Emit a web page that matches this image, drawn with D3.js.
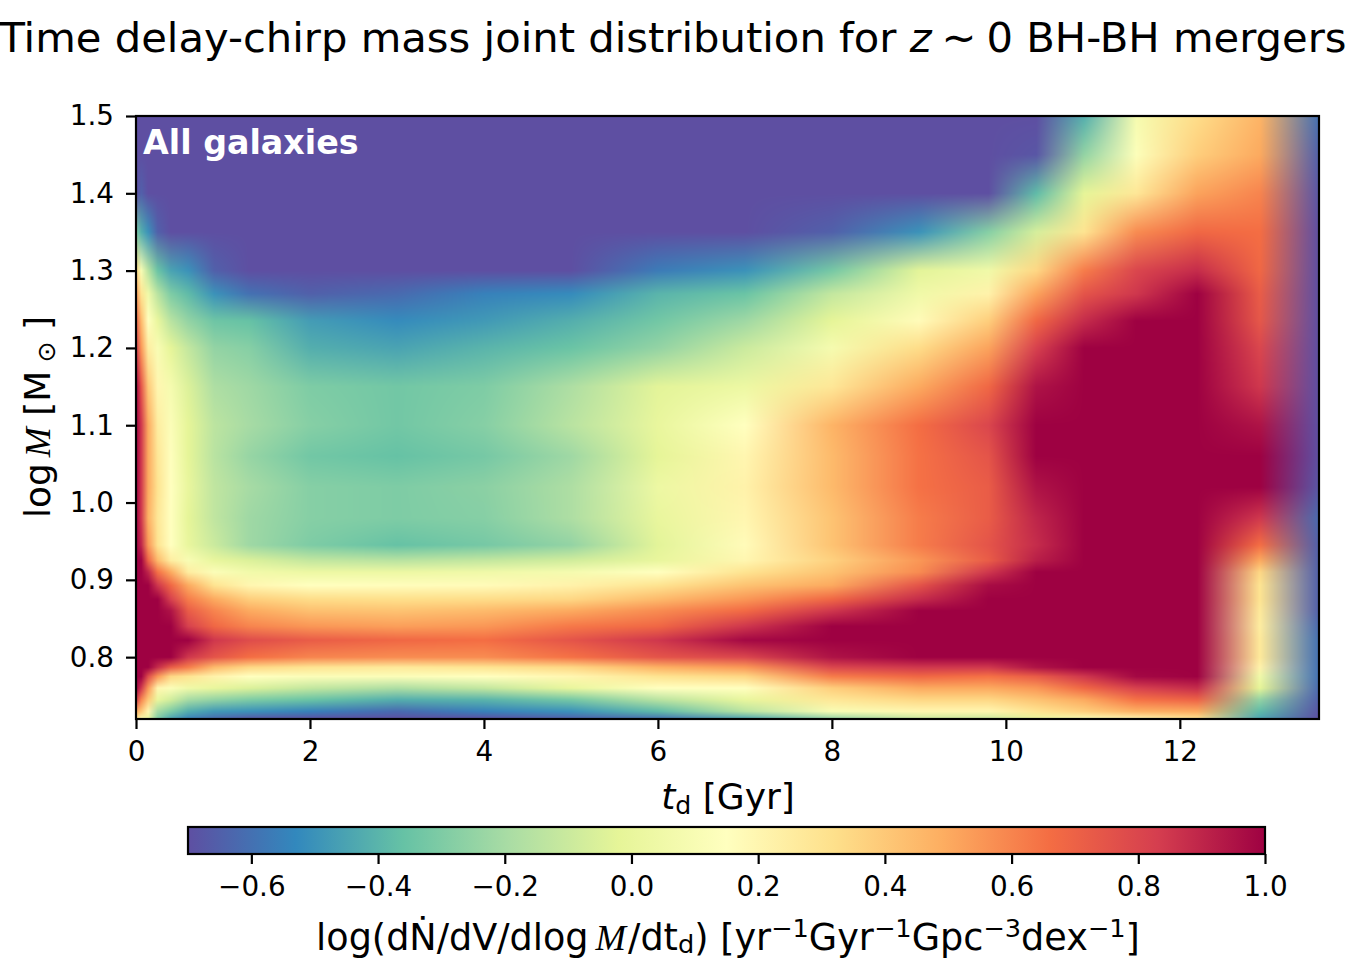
<!DOCTYPE html>
<html>
<head>
<meta charset="utf-8">
<title>Time delay-chirp mass joint distribution</title>
<script src="https://cdn.jsdelivr.net/npm/d3@7"></script>
<style>
  html, body { margin: 0; background: #fff; }
  svg { display: block; font-family: "DejaVu Sans", sans-serif; }
  .domain { display: none; }
  .tick line { stroke: #000; stroke-width: 2.2; }
  .tick text { font-size: 27.8px; fill: #000; font-family: "DejaVu Sans", sans-serif; }
</style>
</head>
<body>
<script>
// delay time nodes [Gyr]
const delayTimes = [0, .06, .14, .25, .4, .6, .9, 1.3, 2, 3, 4, 5, 6, 7, 8, 9, 9.8, 10.35, 10.9, 11.5, 12.2, 12.92, 13.6]
// log chirp mass nodes, top row first
const logMasses = [1.5, 1.45, 1.4, 1.35, 1.3, 1.27, 1.235, 1.2, 1.15, 1.1, 1.06, 1.02, .98, .945, .925, .91, .893, .875, .86, .84, .822, .8, .787, .775, .76, .745, .73, .72]
// log rate, one row per mass node
const logRates = [
  [-.8,-.8,-.8,-.8,-.8,-.8,-.8,-.8,-.8,-.8,-.8,-.8,-.8,-.8,-.8,-.8,-.8,-.72,-.42,.08,.33,.47,-.6],
  [-.75,-.8,-.8,-.8,-.8,-.8,-.8,-.8,-.8,-.8,-.8,-.8,-.8,-.8,-.8,-.8,-.75,-.68,-.25,.13,.38,.5,-.65],
  [-.7,-.65,-.72,-.78,-.8,-.8,-.8,-.8,-.8,-.8,-.8,-.8,-.8,-.8,-.8,-.8,-.72,-.38,-.02,.28,.52,.6,-.68],
  [-.3,-.42,-.5,-.65,-.72,-.75,-.8,-.8,-.8,-.8,-.8,-.8,-.78,-.75,-.65,-.5,-.28,-.07,.3,.58,.68,.66,-.7],
  [.35,.1,-.15,-.35,-.45,-.5,-.65,-.72,-.75,-.75,-.75,-.72,-.57,-.5,-.32,-.03,.05,.35,.62,.8,.88,.68,-.7],
  [.55,.3,.05,-.15,-.3,-.38,-.5,-.6,-.65,-.62,-.55,-.52,-.4,-.35,-.12,.05,.22,.52,.75,.85,1,.72,-.7],
  [.72,.45,.15,0,-.15,-.25,-.34,-.36,-.47,-.52,-.48,-.42,-.33,-.22,-.02,.17,.38,.68,.88,1.05,1.05,.74,-.7],
  [.85,.55,.25,.1,-.02,-.12,-.25,-.28,-.42,-.45,-.4,-.35,-.25,-.1,.08,.33,.52,.82,1,1.1,1.1,.8,-.7],
  [1.05,.75,.4,.2,.08,-.05,-.18,-.22,-.3,-.33,-.3,-.18,-.03,.03,.28,.5,.68,.95,1.1,1.1,1.1,.85,-.7],
  [1.15,.85,.5,.25,.12,-.02,-.14,-.2,-.28,-.33,-.28,-.15,0,.15,.47,.66,.8,1,1.1,1.1,1.1,.95,-.7],
  [1.2,.85,.5,.28,.14,-.02,-.15,-.24,-.33,-.36,-.32,-.22,-.02,.2,.45,.65,.75,1,1.1,1.1,1.1,1,-.7],
  [1.2,.85,.5,.3,.15,0,-.13,-.2,-.28,-.3,-.27,-.18,.03,.22,.45,.65,.72,.95,1.1,1.1,1.1,1,-.68],
  [1.2,.85,.48,.28,.15,-.02,-.13,-.22,-.28,-.3,-.28,-.18,0,.2,.42,.62,.72,.9,1.1,1.1,1,.85,-.62],
  [1.2,.9,.55,.3,.15,0,-.1,-.22,-.3,-.36,-.32,-.25,-.03,.17,.42,.62,.75,.88,1.1,1.1,1.05,.66,-.65],
  [1.2,1,.7,.45,.25,.1,0,-.05,-.12,-.15,-.12,-.08,0,.2,.37,.55,.72,.92,1.1,1.1,1.05,.5,-.65],
  [1.2,1.15,.9,.65,.5,.25,.12,.06,.03,.03,.05,.08,.15,.3,.42,.58,.85,1.02,1.1,1.1,1.05,.35,-.65],
  [1.2,1.2,1.05,.85,.68,.5,.3,.2,.15,.16,.17,.22,.3,.42,.5,.75,.97,1.1,1.1,1.1,1.05,.3,-.65],
  [1.2,1.2,1.15,1,.82,.62,.5,.38,.33,.32,.33,.35,.45,.55,.68,.88,1.05,1.1,1.1,1.1,1.05,.3,-.65],
  [1.2,1.2,1.2,1.1,.95,.72,.6,.5,.43,.42,.45,.5,.58,.67,.85,1,1.1,1.1,1.1,1.1,1.05,.27,-.65],
  [1.2,1.2,1.2,1.15,1.05,.82,.68,.6,.55,.53,.55,.63,.68,.85,1.05,1.1,1.1,1.1,1.1,1.1,1.05,.25,-.62],
  [1.2,1.2,1.2,1.15,1.1,1,.85,.78,.72,.68,.66,.75,.85,.98,1.1,1.1,1.1,1.1,1.1,1.1,1.05,.27,-.6],
  [1.2,1.2,1.2,1.1,1,.85,.75,.66,.6,.58,.58,.65,.75,.8,.95,1,1.05,1.1,1.1,1.1,1.05,.27,-.6],
  [1.2,1.2,1.05,.88,.72,.62,.45,.35,.3,.27,.3,.35,.48,.55,.8,.85,.85,.95,1,1.05,1.05,.22,-.6],
  [1.2,1.1,.78,.55,.35,.3,.22,.15,.12,.12,.15,.2,.3,.35,.62,.68,.65,.72,.85,.98,1,.05,-.6],
  [1.1,.85,.55,.2,.12,.05,0,-.05,-.12,-.18,-.12,0,.15,.15,.38,.5,.5,.55,.68,.82,.88,-.02,-.62],
  [.85,.6,.4,0,-.08,-.2,-.25,-.3,-.35,-.42,-.4,-.32,-.15,0,.28,.35,.35,.42,.5,.65,.7,-.25,-.65],
  [.5,.4,.2,-.2,-.3,-.42,-.48,-.5,-.55,-.62,-.55,-.5,-.38,-.15,.1,.2,.2,.3,.38,.48,.5,-.38,-.68],
  [.3,.1,0,-.3,-.45,-.55,-.62,-.68,-.7,-.72,-.7,-.65,-.6,-.45,-.25,-.1,-.1,0,.1,.2,.3,-.45,-.7]
]
const spectralColors = ['#5e4fa2','#3288bd','#66c2a5','#abdda4','#e6f598','#ffffbf','#fee08b','#fdae61','#f46d43','#d53e4f','#9e0142']
const xTicks = [0, 2, 4, 6, 8, 10, 12]
const yTicks = [.8, .9, 1, 1.1, 1.2, 1.3, 1.4, 1.5]
const barTicks = [-.6, -.4, -.2, 0, .2, .4, .6, .8, 1]

const width = 1346, height = 960
const plot = {left: 136, right: 1319, top: 116, bottom: 719}
const bar = {left: 188, right: 1265, top: 827, bottom: 854}
const rateRange = [-.7, 1]

const x = d3.scaleLinear().domain([0, 13.6]).range([plot.left, plot.right])
const y = d3.scaleLinear().domain([.72, 1.5]).range([plot.bottom, plot.top])
const barX = d3.scaleLinear().domain(rateRange).range([bar.left, bar.right])
const colorStops = spectralColors.map((c, i) => rateRange[0] + i * (rateRange[1] - rateRange[0]) / (spectralColors.length - 1))
const color = d3.scaleLinear().domain(colorStops).range(spectralColors).clamp(true)

const svg = d3.select('body').append('svg').attr('width', width).attr('height', height)

// the mesh is shaded like gouraud: colours of the nodes are blended, not the values
function drawMesh() {
  const w = plot.right - plot.left, h = plot.bottom - plot.top
  const canvas = document.createElement('canvas')
  canvas.width = w
  canvas.height = h
  const ctx = canvas.getContext('2d')
  const img = ctx.createImageData(w, h)
  const nodeRgb = logRates.map(row => row.map(v => d3.rgb(color(v))))
  const massesUp = logMasses.slice().reverse()
  for (let py = 0; py < h; py++) {
    const m = y.invert(plot.top + py + .5)
    const up = Math.min(Math.max(d3.bisectRight(massesUp, m), 1), massesUp.length - 1)
    const fy = (m - massesUp[up - 1]) / (massesUp[up] - massesUp[up - 1])
    const lo = nodeRgb[massesUp.length - up], hi = nodeRgb[massesUp.length - 1 - up]
    for (let px = 0; px < w; px++) {
      const t = x.invert(plot.left + px + .5)
      const j = Math.min(Math.max(d3.bisectRight(delayTimes, t), 1), delayTimes.length - 1)
      const fx = (t - delayTimes[j - 1]) / (delayTimes[j] - delayTimes[j - 1])
      const k = (py * w + px) * 4
      for (const [n, ch] of ['r', 'g', 'b'].entries()) {
        const a = lo[j - 1][ch] * (1 - fx) + lo[j][ch] * fx
        const b = hi[j - 1][ch] * (1 - fx) + hi[j][ch] * fx
        img.data[k + n] = a * (1 - fy) + b * fy
      }
      img.data[k + 3] = 255
    }
  }
  ctx.putImageData(img, 0, 0)
  svg.append('image')
    .attr('x', plot.left).attr('y', plot.top)
    .attr('width', w).attr('height', h)
    .attr('href', canvas.toDataURL())
}
drawMesh()

svg.append('rect')
  .attr('x', plot.left).attr('y', plot.top)
  .attr('width', plot.right - plot.left).attr('height', plot.bottom - plot.top)
  .attr('fill', 'none').attr('stroke', '#000').attr('stroke-width', 2.2)

svg.append('g').attr('transform', `translate(0,${plot.bottom})`)
  .call(d3.axisBottom(x).tickValues(xTicks).tickSize(10).tickPadding(12).tickFormat(d3.format('d')))
svg.append('g').attr('transform', `translate(${plot.left},0)`)
  .call(d3.axisLeft(y).tickValues(yTicks).tickSize(10).tickPadding(12).tickFormat(d3.format('.1f')))

// colorbar
const gradient = svg.append('defs').append('linearGradient').attr('id', 'spectral')
gradient.selectAll('stop').data(spectralColors).join('stop')
  .attr('offset', (d, i) => i / (spectralColors.length - 1))
  .attr('stop-color', d => d)
svg.append('rect')
  .attr('x', bar.left).attr('y', bar.top)
  .attr('width', bar.right - bar.left).attr('height', bar.bottom - bar.top)
  .attr('fill', 'url(#spectral)').attr('stroke', '#000').attr('stroke-width', 2.2)
svg.append('g').attr('transform', `translate(0,${bar.bottom})`)
  .call(d3.axisBottom(barX).tickValues(barTicks).tickSize(10).tickPadding(12).tickFormat(d3.format('.1f')))

// text made of runs: {t: text, i: italic, sub, sup, gap, font}
function label(x0, y0, size, runs, rotate) {
  const text = svg.append('text')
    .attr('text-anchor', 'middle')
    .attr('font-size', size)
    .attr('fill', '#000')
    .attr('transform', `translate(${x0},${y0})${rotate ? ` rotate(${rotate})` : ''}`)
  let shift = 0
  runs.forEach(r => {
    const s = typeof r === 'string' ? {t: r} : r
    const target = s.sub ? s.sub : s.sup ? -size * .36 : 0
    const span = text.append('tspan').text(s.t).attr('dy', target - shift)
    if (s.i) span.attr('font-style', 'italic')
    if (s.sub || s.sup) span.attr('font-size', size * .7)
    if (s.gap) span.attr('dx', s.gap)
    if (s.font) span.attr('font-family', s.font)
    shift = target
  })
  return text
}

const scriptM = {t: 'M', i: true, gap: 6, font: '"Liberation Serif"'}
label(673, 52, 41.7, ['Time delay-chirp mass joint distribution for ', {t: 'z', i: true}, {t: '∼', gap: 10}, {t: '0 BH-BH mergers', gap: 10}])
label(728, 809, 36, [{t: 't', i: true}, {t: 'd', sub: 5}, ' [Gyr]'])
label(728, 950, 36.6, ['log(dṄ/dV/dlog', {t: 'M', i: true, gap: 7, font: '"Liberation Serif"'}, {t: '/dt', gap: 2}, {t: 'd', sub: 3}, ') [yr', {t: '−1', sup: true}, 'Gyr', {t: '−1', sup: true}, 'Gpc', {t: '−3', sup: true}, 'dex', {t: '−1', sup: true}, ']'])
label(50, 417, 36, ['log', scriptM, ' [M', {t: ' ⊙', sub: 5}, ' ]'], -90)

svg.append('text')
  .attr('x', x(0.08)).attr('y', 154)
  .attr('font-size', 33.3).attr('font-weight', 'bold').attr('fill', '#fff')
  .text('All galaxies')
</script>
</body>
</html>
